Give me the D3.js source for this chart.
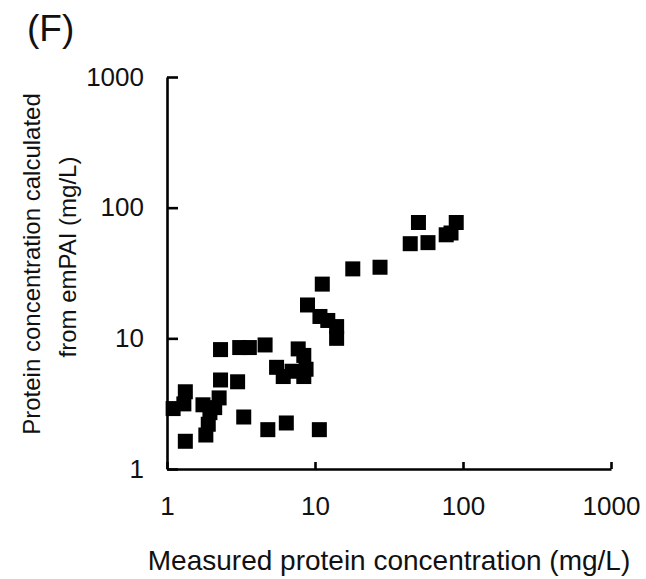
<!DOCTYPE html>
<html lang="en">
<head>
  <meta charset="UTF-8">
  <title>emPAI vs measured concentration</title>
  <script src="https://cdn.jsdelivr.net/npm/d3@7"></script>
  <style>
    body { margin: 0; background: #fff; }
    svg { display: block; font-family: "Liberation Sans", Arial, sans-serif; }
  </style>
</head>
<body>
<div id="graph"></div>
<script>
  // measured (x) and emPAI-calculated (y) concentrations, mg/L
  const measured = [
    50, 90, 44, 58, 77, 83, 27.5, 18, 11.2, 8.9,
    10.8, 12.2, 14, 14,
    5.5, 6.1, 7.0, 7.7, 8.4, 8.7, 8.4,
    2.3, 3.1, 3.6, 4.6, 2.3, 3.0,
    1.33, 1.1, 1.3, 2.25, 1.75, 2.1, 1.95,
    1.9, 1.83, 3.3, 4.8, 6.4, 10.7, 1.33
  ]
  const calculated = [
    77, 77, 53, 54, 62, 64, 35, 34, 26, 18,
    14.7, 13.7, 12.3, 10,
    6.0, 5.1, 5.6, 8.3, 7.4, 5.8, 5.1,
    8.2, 8.5, 8.5, 8.9, 4.8, 4.65,
    3.9, 2.9, 3.15, 3.5, 3.1, 2.95, 2.7,
    2.2, 1.82, 2.5, 2.0, 2.25, 2.0, 1.63
  ]
  const tickValues = [1, 10, 100, 1000]

  const width = 646
  const height = 579
  const plotLeft = 167
  const plotRight = 611
  const plotTop = 77
  const plotBottom = 469

  const svg = d3.select('#graph')
    .append('svg')
    .attr('width', width)
    .attr('height', height)

  const x = d3.scaleLog().domain([1, 1000]).range([plotLeft, plotRight])
  const y = d3.scaleLog().domain([1, 1000]).range([plotBottom, plotTop])

  const xAxis = svg.append('g')
    .attr('transform', `translate(0,${plotBottom})`)
    .call(d3.axisBottom(x).tickValues(tickValues).tickFormat(d3.format('d'))
      .tickSizeInner(-7).tickSizeOuter(0).tickPadding(28))

  const yAxis = svg.append('g')
    .attr('transform', `translate(${plotLeft},0)`)
    .call(d3.axisLeft(y).tickValues(tickValues).tickFormat(d3.format('d'))
      .tickSizeInner(-11).tickSizeOuter(0).tickPadding(23))

  for (const g of [xAxis, yAxis]) {
    g.attr('font-family', null).attr('font-size', null)
    g.select('.domain').attr('stroke', '#000').attr('stroke-width', 2.6)
    g.selectAll('.tick line').attr('stroke', '#000').attr('stroke-width', 2.6)
    g.selectAll('.tick text').attr('fill', '#111').style('font-size', '26px')
  }

  // markers
  const points = measured.map((m, i) => [m, calculated[i]])
  const size = 15
  svg.append('g')
    .selectAll('rect')
    .data(points)
    .join('rect')
    .attr('x', d => x(d[0]) - size / 2)
    .attr('y', d => y(d[1]) - size / 2)
    .attr('width', size)
    .attr('height', size)
    .attr('fill', '#000')

  // labels
  svg.append('text')
    .attr('x', 27)
    .attr('y', 41)
    .style('font-size', '37px')
    .attr('fill', '#111')
    .text('(F)')

  svg.append('text')
    .attr('x', (plotLeft + plotRight) / 2)
    .attr('y', 570)
    .attr('text-anchor', 'middle')
    .style('font-size', '28px')
    .attr('fill', '#111')
    .text('Measured protein concentration (mg/L)')

  const yLabel = svg.append('g')
    .attr('transform', 'rotate(-90)')
    .attr('text-anchor', 'middle')
    .style('font-size', '24px')
    .attr('fill', '#111')
  yLabel.append('text')
    .attr('x', -264)
    .attr('y', 40)
    .text('Protein concentration calculated')
  yLabel.append('text')
    .attr('x', -257)
    .attr('y', 76)
    .text('from emPAI (mg/L)')
</script>
</body>
</html>
